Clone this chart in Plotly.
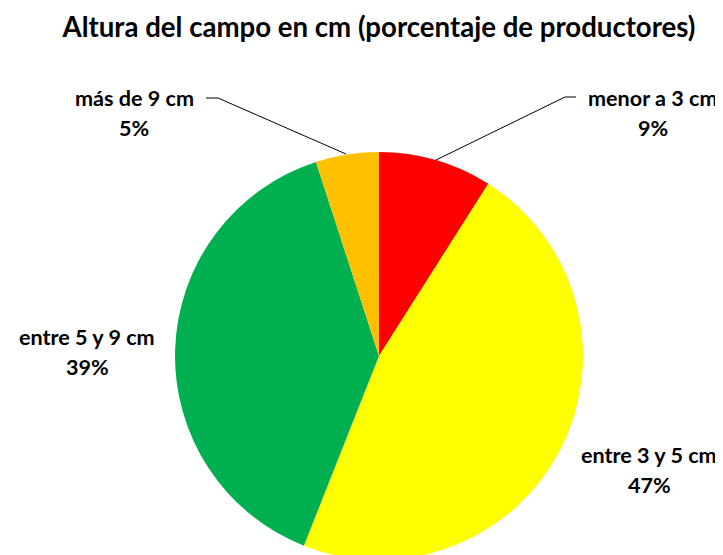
import plotly.graph_objects as go

labels = ["menor a 3 cm", "entre 3 y 5 cm", "entre 5 y 9 cm", "más de 9 cm"]
values = [9, 47, 39, 5]
colors = ["#FF0000", "#FFFF00", "#00B050", "#FFC000"]

W, H = 723, 555
OFF = 8  # the page body adds an 8px margin around the figure
FONT = "Lato"


def px(x, y):
    # screen pixel -> paper coords
    return (x - OFF) / W, 1 - (y - OFF) / H


fig = go.Figure()

# pie centred at about (379, 356) on screen, radius ~204
cx, cy, r = 379, 356, 204
x0, y0 = px(cx - r, cy + r)
x1, y1 = px(cx + r, cy - r)
fig.add_trace(go.Pie(
    labels=labels,
    values=values,
    sort=False,
    direction="clockwise",
    rotation=0,
    marker=dict(colors=colors, line=dict(width=0)),
    textinfo="none",
    hoverinfo="label+percent",
    showlegend=False,
    domain=dict(x=[x0, x1], y=[max(y0, 0), y1]),
))

# label positions on screen (centre x, y of first line)
label_pos = [(653, 98), (649, 455), (87, 337), (134, 98)]

for name, val, (lx, ly) in zip(labels, values, label_pos):
    for txt, yy in ((name, ly), (f"{val}%", ly + 30)):
        ax, ay = px(lx, yy)
        fig.add_annotation(
            x=ax, y=ay, xref="paper", yref="paper",
            text=f"<b>{txt}</b>", showarrow=False,
            xanchor="center", yanchor="middle",
            font=dict(family=FONT, size=21.6, color="#000000"),
        )

# leader lines
leaders = [
    [(576, 97), (565, 97), (436, 160)],
    [(206, 98), (218, 98), (346, 154)],
]
for pts in leaders:
    for (ax0, ay0), (ax1, ay1) in zip(pts[:-1], pts[1:]):
        a0, b0 = px(ax0, ay0)
        a1, b1 = px(ax1, ay1)
        fig.add_shape(type="line", xref="paper", yref="paper",
                      x0=a0, y0=b0, x1=a1, y1=b1,
                      line=dict(color="#000000", width=1))

tx, ty = px(379, 27)
fig.update_layout(
    width=W, height=H,
    margin=dict(l=0, r=0, t=0, b=0),
    paper_bgcolor="#FFFFFF",
    plot_bgcolor="#FFFFFF",
    title=dict(
        text="<b>Altura del campo en cm (porcentaje de productores)</b>",
        x=tx, xanchor="center",
        y=ty, yanchor="middle",
        font=dict(family=FONT, size=27.6, color="#000000"),
    ),
)

fig.write_html("out.html")
